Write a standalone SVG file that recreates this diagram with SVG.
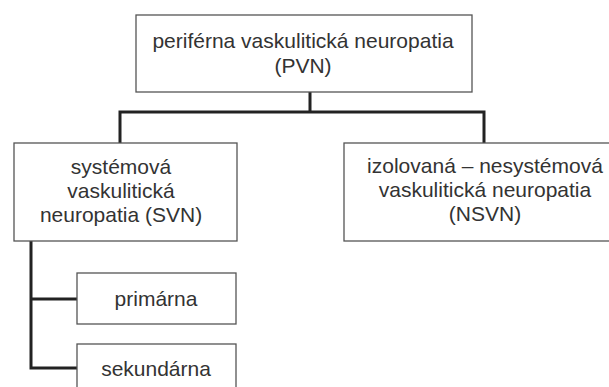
<svg xmlns="http://www.w3.org/2000/svg" width="609" height="387" viewBox="0 0 609 387">
<style>
.box{fill:#fff;stroke:#555;stroke-width:1.3}
.t{font-family:"Liberation Sans",Arial,sans-serif;font-size:21px;fill:#333;text-anchor:middle}
.c{fill:none;stroke:#222;stroke-width:3;stroke-linejoin:miter;stroke-linecap:square}
</style>
<rect width="609" height="387" fill="#fff"/>
<g id="connectors">
<path class="c" d="M310,92 V112 M120,142 V112 H484 V142"/>
<path class="c" d="M31,242 V368 H76 M31,299 H76"/>
</g>
<g id="pvn">
<rect class="box" x="136" y="15" width="336" height="77"/>
<text class="t" x="303" y="48">periférna vaskulitická neuropatia</text>
<text class="t" x="303" y="73">(PVN)</text>
</g>
<g id="svn">
<rect class="box" x="14" y="143" width="223" height="98"/>
<text class="t" x="121" y="174">systémová</text>
<text class="t" x="121" y="198">vaskulitická</text>
<text class="t" x="121" y="222">neuropatia (SVN)</text>
</g>
<g id="nsvn">
<rect class="box" x="344" y="143" width="286" height="98"/>
<text class="t" x="485" y="173">izolovaná – nesystémová</text>
<text class="t" x="485" y="197">vaskulitická neuropatia</text>
<text class="t" x="485" y="221">(NSVN)</text>
</g>
<g id="primarna">
<rect class="box" x="77" y="273" width="159" height="51"/>
<text class="t" x="156" y="306">primárna</text>
</g>
<g id="sekundarna">
<rect class="box" x="77" y="344" width="159" height="60"/>
<text class="t" x="156" y="376">sekundárna</text>
</g>
</svg>
